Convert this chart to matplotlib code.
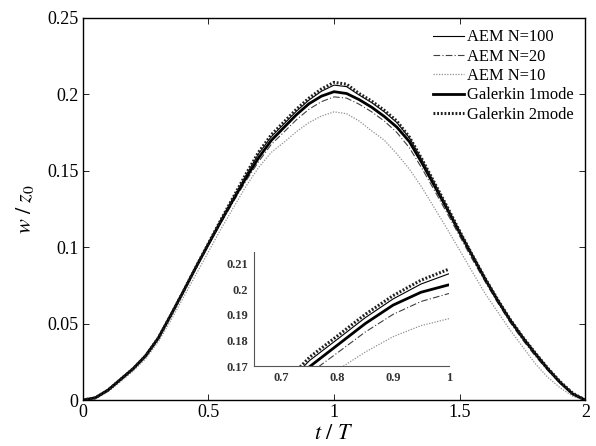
import numpy as np
import matplotlib
matplotlib.use("Agg")
import matplotlib.pyplot as plt

plt.rcParams['font.family'] = ['Liberation Serif', 'DejaVu Serif']
plt.rcParams['mathtext.fontset'] = 'stix'

# t/T sample grid (0 to 2, step 0.05)
t = np.round(np.arange(41) * 0.05, 2)

# w/z0
aem_100 = [0, 0.0015, 0.0065, 0.0135, 0.0205, 0.0290, 0.0405, 0.0555, 0.0710, 0.0870,
           0.1025, 0.1180, 0.1325, 0.1472, 0.1612, 0.1722, 0.1805, 0.1889, 0.1962, 0.2020,
           0.2060, 0.2050, 0.1995, 0.1945, 0.1885, 0.1815, 0.1715, 0.1570, 0.1418, 0.1263,
           0.1103, 0.0948, 0.0798, 0.0658, 0.0528, 0.0413, 0.0308, 0.0208, 0.0118, 0.0044, 0]
aem_20 = [0, 0.0015, 0.0065, 0.0135, 0.0205, 0.0290, 0.0405, 0.0555, 0.0710, 0.0865,
          0.1015, 0.1160, 0.1300, 0.1435, 0.1560, 0.1672, 0.1752, 0.1833, 0.1902, 0.1952,
          0.1983, 0.1975, 0.1935, 0.1885, 0.1825, 0.1750, 0.1650, 0.1515, 0.1370, 0.1222,
          0.1072, 0.0922, 0.0778, 0.0640, 0.0510, 0.0395, 0.0290, 0.0195, 0.0110, 0.0040, 0]
aem_10 = [0, 0.0012, 0.0055, 0.0120, 0.0190, 0.0270, 0.0380, 0.0520, 0.0670, 0.0820,
          0.0970, 0.1120, 0.1260, 0.1400, 0.1522, 0.1620, 0.1685, 0.1755, 0.1815, 0.1858,
          0.1885, 0.1873, 0.1825, 0.1760, 0.1700, 0.1610, 0.1510, 0.1390, 0.1255, 0.1120,
          0.0980, 0.0840, 0.0700, 0.0580, 0.0460, 0.0350, 0.0240, 0.0150, 0.0080, 0.0025, 0]
galerkin_1 = [0, 0.0015, 0.0065, 0.0135, 0.0205, 0.0290, 0.0405, 0.0555, 0.0710, 0.0868,
              0.1020, 0.1170, 0.1315, 0.1455, 0.1585, 0.1698, 0.1782, 0.1866, 0.1938, 0.1988,
              0.2017, 0.2005, 0.1965, 0.1915, 0.1855, 0.1785, 0.1690, 0.1550, 0.1400, 0.1250,
              0.1095, 0.0945, 0.0795, 0.0655, 0.0525, 0.0410, 0.0305, 0.0205, 0.0115, 0.0040, 0]
galerkin_2 = [0, 0.0015, 0.0065, 0.0135, 0.0205, 0.0290, 0.0405, 0.0555, 0.0710, 0.0870,
              0.1025, 0.1180, 0.1330, 0.1480, 0.1622, 0.1735, 0.1818, 0.1902, 0.1975, 0.2035,
              0.2078, 0.2066, 0.2005, 0.1955, 0.1895, 0.1825, 0.1720, 0.1575, 0.1420, 0.1265,
              0.1105, 0.0950, 0.0800, 0.0660, 0.0530, 0.0415, 0.0310, 0.0210, 0.0120, 0.0045, 0]

series = [
    ("AEM N=100", aem_100, dict(color="black", lw=0.8, ls="-")),
    ("AEM N=20", aem_20, dict(color="#404040", lw=0.8, ls=(0, (6, 2, 1, 2)))),
    ("AEM N=10", aem_10, dict(color="#909090", lw=0.9, ls=(0, (1, 1.2)))),
    ("Galerkin 1mode", galerkin_1, dict(color="black", lw=2.0, ls="-")),
    ("Galerkin 2mode", galerkin_2, dict(color="#202020", lw=2.2, ls=(0, (0.6, 0.6)))),
]

fig = plt.figure(figsize=(5.96, 4.46), dpi=100)
ax = fig.add_axes([0.139, 0.103, 0.843, 0.857])

for name, vals, style in series:
    ax.plot(t, vals, label=name, **style)

ax.set_xlim(0, 2)
ax.set_ylim(0, 0.25)
ax.set_xticks([0, 0.5, 1, 1.5, 2])
ax.set_xticklabels(["0", "0.5", "1", "1.5", "2"])
ax.set_yticks([0, 0.05, 0.1, 0.15, 0.2, 0.25])
ax.set_yticklabels(["0", "0.05", "0.1", "0.15", "0.2", "0.25"])
ax.tick_params(direction="in", length=4, width=0.6, labelsize=13,
               top=True, right=True, pad=3)
for s in ax.spines.values():
    s.set_linewidth(1.0)
ax.set_xlabel(r"$t\ /\ T$", fontsize=16, labelpad=3)
ax.set_ylabel(r"$w\ /\ z_0$", fontsize=16, labelpad=8)

leg = ax.legend(loc="upper right", fontsize=11.9, frameon=False,
                handlelength=1.85, handletextpad=0.2, labelspacing=0.2,
                borderaxespad=0.3)

# zoomed inset around the peak
ins = fig.add_axes([0.426, 0.179, 0.327, 0.256])
for name, vals, style in series:
    ins.plot(t, vals, **style)
ins.set_xlim(0.65, 1.0)
ins.set_ylim(0.17, 0.2145)
ins.set_xticks([0.7, 0.8, 0.9, 1.0])
ins.set_xticklabels(["0.7", "0.8", "0.9", "1"])
ins.set_yticks([0.17, 0.18, 0.19, 0.2, 0.21])
ins.set_yticklabels(["0.17", "0.18", "0.19", "0.2", "0.21"])
ins.spines["top"].set_visible(False)
ins.spines["right"].set_visible(False)
ins.spines["left"].set_color("#555555")
ins.spines["bottom"].set_color("#555555")
ins.tick_params(length=0, labelsize=9, pad=4)
for lab in ins.get_xticklabels() + ins.get_yticklabels():
    lab.set_fontweight("bold")
    lab.set_color("#333333")

fig.savefig("out.png", dpi=100)
